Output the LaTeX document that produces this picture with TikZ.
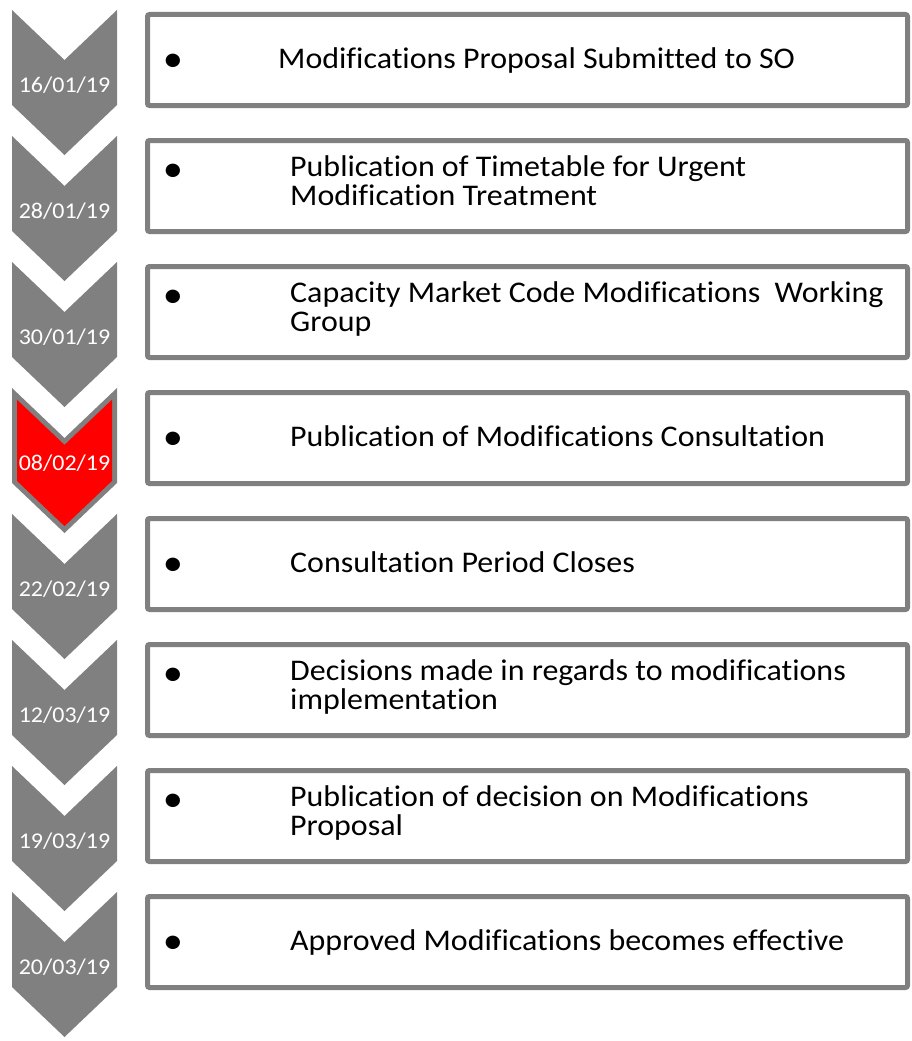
\documentclass[tikz,border=0pt]{standalone}
\usepackage{fontspec}
\setmainfont{Carlito}[FakeStretch=1.065, Ligatures=NoCommon]
\definecolor{chevgray}{RGB}{128,128,128}
\definecolor{chevred}{RGB}{255,0,0}
\begin{document}
\begin{tikzpicture}[x=1pt,y=-1pt,
  boxst/.style={draw=chevgray, line width=5pt, rounded corners=2pt, minimum width=760pt, minimum height=91pt, inner sep=0pt},
  datest/.style={anchor=base, text=white, font=\fontsize{22.5}{26}\selectfont, inner sep=0pt},
  txt/.style={anchor=base west, align=left, font=\fontsize{30}{28.5}\selectfont, inner sep=0pt},
  bul/.style={anchor=base, font=\fontsize{38}{38}\selectfont, inner sep=0pt}
]
\useasboundingbox (0,0) rectangle (911,1041);
% chevrons
\foreach \i in {0,...,7}{
  \pgfmathsetmacro{\T}{10+126*\i}
  \fill[chevgray] (12,\T) -- (64.5,\T+50) -- (117,\T) -- (117,\T+95) -- (64.5,\T+145) -- (12,\T+95) -- cycle;
}
\pgfmathsetmacro{\T}{10+126*3}
\fill[chevred] (17,\T+11.7) -- (64.5,\T+56.9) -- (112,\T+11.7) -- (112,\T+92.9) -- (64.5,\T+138.1) -- (17,\T+92.9) -- cycle;
\node[datest] (d1) at (64.5,10+82.5) {16/01/19};
\node[datest] (d2) at (64.5,136+82.5) {28/01/19};
\node[datest] (d3) at (64.5,262+82.5) {30/01/19};
\node[datest] (d4) at (64.5,388+82.5) {08/02/19};
\node[datest] (d5) at (64.5,514+82.5) {22/02/19};
\node[datest] (d6) at (64.5,640+82.5) {12/03/19};
\node[datest] (d7) at (64.5,766+82.5) {19/03/19};
\node[datest] (d8) at (64.5,892+82.5) {20/03/19};
% boxes
\node[boxst] (b1) at (527.5,10+50) {};
\node[boxst] (b2) at (527.5,136+50) {};
\node[boxst] (b3) at (527.5,262+50) {};
\node[boxst] (b4) at (527.5,388+50) {};
\node[boxst] (b5) at (527.5,514+50) {};
\node[boxst] (b6) at (527.5,640+50) {};
\node[boxst] (b7) at (527.5,766+50) {};
\node[boxst] (b8) at (527.5,892+50) {};
% bullets
\node[bul] (p1) at (173,10+61) {•};
\node[bul] (p2) at (173,136+45) {•};
\node[bul] (p3) at (173,262+45) {•};
\node[bul] (p4) at (173,388+61) {•};
\node[bul] (p5) at (173,514+61) {•};
\node[bul] (p6) at (173,640+45) {•};
\node[bul] (p7) at (173,766+45) {•};
\node[bul] (p8) at (173,892+61) {•};
% texts
\node[txt] (t1) at (278,10+58) {Modifications Proposal Submitted to SO};
\node[txt] (t2) at (290,136+69) {Publication of Timetable for Urgent\\Modification Treatment};
\node[txt] (t3) at (290,262+69) {Capacity Market Code Modifications\ \ Working\\Group};
\node[txt] (t4) at (290,388+58) {Publication of Modifications Consultation};
\node[txt] (t5) at (290,514+58) {Consultation Period Closes};
\node[txt] (t6) at (290,640+69) {Decisions made in regards to modifications\\implementation};
\node[txt] (t7) at (290,766+69) {Publication of decision on Modifications\\Proposal};
\node[txt] (t8) at (290,892+58) {Approved Modifications becomes effective};
\end{tikzpicture}
\end{document}
